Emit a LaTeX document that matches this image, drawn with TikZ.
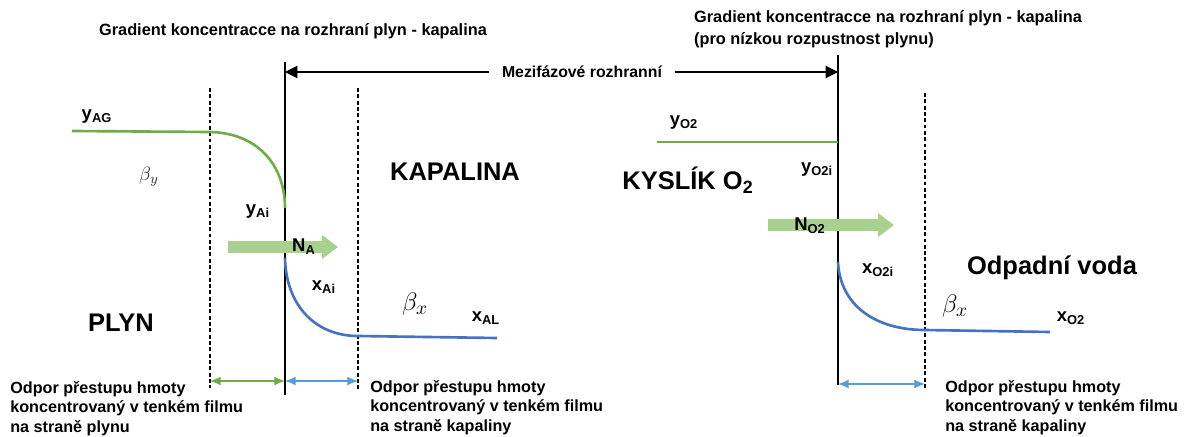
\documentclass[tikz,border=0pt]{standalone}
\usepackage{fontspec}
\setmainfont{Liberation Sans}
\usetikzlibrary{arrows.meta,positioning}
\definecolor{gasgreen}{RGB}{112,173,71}
\definecolor{liqblue}{RGB}{68,114,196}
\definecolor{fluxgreen}{RGB}{169,209,142}
\definecolor{rangeblue}{RGB}{91,155,213}

\begin{document}
\begin{tikzpicture}[>=Latex,
  lbl/.style={font=\fontsize{10.5}{12}\selectfont\bfseries,inner sep=1pt},
  head/.style={font=\fontsize{9.3}{12.5}\selectfont\bfseries,inner sep=1pt},
  phase/.style={font=\fontsize{14.5}{16}\selectfont\bfseries,inner sep=1pt},
  note/.style={font=\fontsize{9.2}{11.1}\selectfont\bfseries,align=left,anchor=north west,inner sep=0pt},
  wall/.style={line width=0.8pt},
  film/.style={line width=0.7pt,dash pattern=on 2.2pt off 1.4pt},
  gasline/.style={draw=gasgreen,line width=1.5pt},
  liqline/.style={draw=liqblue,line width=1.5pt},
  flux/.style={draw=fluxgreen,line width=7pt,-{Triangle[length=9pt,width=13pt]}},
  rangearr/.style={line width=0.6pt,{Latex[length=6pt,width=5pt]}-{Latex[length=6pt,width=5pt]}}]
\useasboundingbox (0,0) rectangle (23.74,-8.72);

% titles
\node[head] (t1) at (5.86,-0.62) {Gradient koncentracce na rozhraní plyn - kapalina};
\node[head,align=left,anchor=north west] (t2) at (13.84,-0.16) {Gradient koncentracce na rozhraní plyn - kapalina\\(pro nízkou rozpustnost plynu)};

% interfaces and film boundaries
\coordinate (w1t) at (5.70,-1.24);
\coordinate (w1b) at (5.70,-7.90);
\coordinate (w2t) at (16.76,-1.10);
\coordinate (w2b) at (16.76,-7.70);
\draw[wall] (w1t)--(w1b);
\draw[wall] (w2t)--(w2b);
\coordinate (f1t) at (4.20,-1.76);
\coordinate (f1b) at (4.20,-7.76);
\coordinate (f2t) at (7.16,-1.76);
\coordinate (f2b) at (7.16,-7.80);
\coordinate (f3t) at (18.50,-1.86);
\coordinate (f3b) at (18.50,-7.80);
\draw[film] (f1t)--(f1b);
\draw[film] (f2t)--(f2b);
\draw[film] (f3t)--(f3b);

% interphase boundary label
\node[head,font=\fontsize{9}{11}\selectfont\bfseries] (mez) at (11.64,-1.44) {Mezifázové rozhranní};
\coordinate (m1) at (5.70,-1.44);
\coordinate (m2) at (16.76,-1.44);
\draw[line width=0.6pt,-{Triangle[length=7pt,width=7pt]}] ([xshift=-6pt]mez.west)--(m1);
\draw[line width=0.6pt,-{Triangle[length=7pt,width=7pt]}] ([xshift=6pt]mez.east)--(m2);

% left: gas / liquid profiles
\coordinate (g0) at (1.44,-2.62);
\coordinate (g1) at (4.20,-2.64);
\coordinate (g2) at (5.70,-4.16);
\draw[gasline] (g0)--(g1) .. controls (5.15,-2.66) and (5.70,-3.30) .. (g2);
\coordinate (l0) at (5.70,-5.16);
\coordinate (l1) at (7.16,-6.72);
\coordinate (l2) at (9.94,-6.76);
\draw[liqline] (l0) .. controls (5.72,-6.10) and (6.30,-6.72) .. (l1)--(l2);
\coordinate (na0) at (4.56,-4.94);
\coordinate (na1) at (6.76,-4.94);
\draw[flux] (na0)--(na1);

\node[lbl] (yag) at (1.94,-2.34) {y\textsubscript{AG}};
\node[text=black!80,font=\fontsize{11}{13}\selectfont] (by) at (2.98,-3.54) {$\beta_y$};
\node[lbl] (yai) at (5.16,-4.24) {y\textsubscript{Ai}};
\node[lbl] (na) at (6.08,-4.94) {N\textsubscript{A}};
\node[lbl] (xai) at (6.48,-5.74) {x\textsubscript{Ai}};
\node[font=\fontsize{15}{17}\selectfont] (bx1) at (8.30,-6.08) {$\beta_x$};
\node[lbl] (xal) at (9.72,-6.36) {x\textsubscript{AL}};
\node[phase] (kap) at (9.10,-3.44) {KAPALINA};
\node[phase] (plyn) at (2.42,-6.46) {PLYN};

\coordinate (r1) at (4.20,-7.62);
\coordinate (r2) at (5.70,-7.62);
\coordinate (r3) at (7.16,-7.62);
\draw[rangearr,gasgreen] (r1)--(r2);
\draw[rangearr,rangeblue] (r2)--(r3);
\node[note] (n1) at (0.20,-7.62) {Odpor přestupu hmoty\\koncentrovaný v tenkém filmu\\na straně plynu};
\node[note] (n2) at (7.40,-7.60) {Odpor přestupu hmoty\\koncentrovaný v tenkém filmu\\na straně kapaliny};

% right: oxygen into waste water
\coordinate (o0) at (13.14,-2.84);
\coordinate (o1) at (16.76,-2.84);
\draw[gasline] (o0)--(o1);
\coordinate (p0) at (16.76,-5.24);
\coordinate (p1) at (18.50,-6.60);
\coordinate (p2) at (21.00,-6.64);
\draw[liqline] (p0) .. controls (16.80,-6.10) and (17.50,-6.60) .. (p1)--(p2);
\coordinate (no0) at (15.36,-4.50);
\coordinate (no1) at (17.88,-4.50);
\draw[flux] (no0)--(no1);

\node[lbl] (yo) at (13.68,-2.46) {y\textsubscript{O2}};
\node[phase] (kys) at (13.76,-3.60) {KYSLÍK O\textsubscript{2}};
\node[lbl] (yoi) at (16.34,-3.40) {y\textsubscript{O2i}};
\node[lbl] (no) at (16.20,-4.52) {N\textsubscript{O2}};
\node[lbl] (xoi) at (17.56,-5.40) {x\textsubscript{O2i}};
\node[phase] (voda) at (21.04,-5.36) {Odpadní voda};
\node[font=\fontsize{15}{17}\selectfont] (bx2) at (19.10,-6.12) {$\beta_x$};
\node[lbl] (xo) at (21.42,-6.36) {x\textsubscript{O2}};

\coordinate (s1) at (16.76,-7.68);
\coordinate (s2) at (18.50,-7.68);
\draw[rangearr,rangeblue] (s1)--(s2);
\node[note] (n3) at (18.90,-7.60) {Odpor přestupu hmoty\\koncentrovaný v tenkém filmu\\na straně kapaliny};
\end{tikzpicture}
\end{document}
